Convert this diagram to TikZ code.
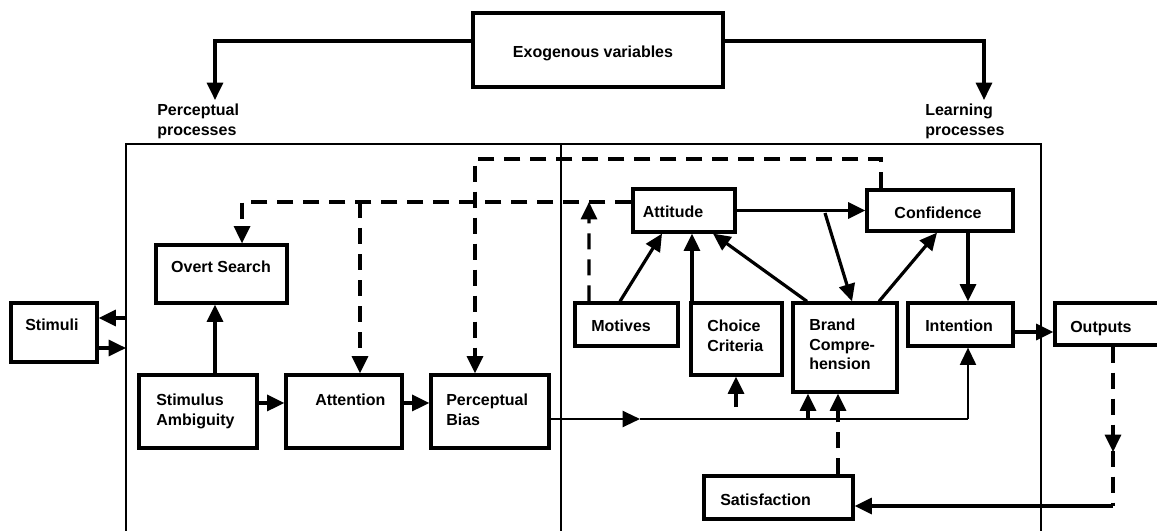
\documentclass[tikz,border=0pt]{standalone}
\usepackage{fontspec}
\setmainfont{Liberation Sans}
\usetikzlibrary{arrows.meta,fit}
\begin{document}
\begin{tikzpicture}[x=0.75pt,y=-0.75pt,
  box/.style={draw, line width=2.4pt, inner sep=0pt},
  lbl/.style={font=\fontsize{12}{14.5}\selectfont\bfseries, inner sep=0pt, align=left},
  frame/.style={line width=1.8pt},
  tip/.style={-{Triangle[length=13pt,width=12pt]}},
  link/.style={line width=2.4pt, tip},
  flow/.style={line width=1.6pt},
  flowlink/.style={line width=1.6pt, tip},
  fb/.style={line width=2.4pt, dash pattern=on 12pt off 7.5pt},
  fblink/.style={fb, tip},
]
\fill[white] (0,0) rectangle (1157,531);
\useasboundingbox (0,0) rectangle (1157,531);

% outer frame with the two process areas
\draw[frame] (126,531) -- (126,144) -- (1041,144) -- (1041,531);
\draw[frame] (561,144) -- (561,531);

% boxes
\node[box, fit={(473,13) (723,87)}]   (exo)  {};
\node[box, fit={(11,303) (97,362)}]   (stim) {};
\node[box, fit={(156,245) (287,303)}] (ovs)  {};
\node[box, fit={(139,375) (257,448)}] (sa)   {};
\node[box, fit={(286,375) (402,448)}] (attn) {};
\node[box, fit={(431,375) (549,448)}] (pb)   {};
\node[box, fit={(633,189) (735,232)}] (atti) {};
\node[box, fit={(867,190) (1013,231)}] (conf) {};
\node[box, fit={(575,303) (678,346)}] (mot)  {};
\node[box, fit={(691,303) (782,375)}] (cc)   {};
\node[box, fit={(793,303) (897,392)}] (bc)   {};
\node[box, fit={(908,303) (1013,346)}] (int) {};
\node[box, fit={(1055,303) (1175,345)}] (out) {};
\node[box, fit={(704,476) (853,519)}] (sat)  {};

% texts
\node[lbl, anchor=base] (exot) at (593,57.5) {Exogenous variables};
\node[lbl, anchor=north west] (pproc) at (157,104) {Perceptual\\processes};
\node[lbl, anchor=north west] (lproc) at (925,104) {Learning\\processes};
\node[lbl, anchor=base] (ovst) at (221,272.5) {Overt Search};
\node[lbl, anchor=base west] (stimt) at (25,330.5) {Stimuli};
\node[lbl, anchor=north west] (sat1) at (156,394) {Stimulus\\Ambiguity};
\node[lbl, anchor=base west] (attnt) at (315,405.5) {Attention};
\node[lbl, anchor=north west] (pbt) at (446,394) {Perceptual\\Bias};
\node[lbl, anchor=base] (attit) at (673,217.5) {Attitude};
\node[lbl, anchor=base] (conft) at (938,218.5) {Confidence};
\node[lbl, anchor=base west] (mott) at (591,331.5) {Motives};
\node[lbl, anchor=north west] (cct) at (707,320) {Choice\\Criteria};
\node[lbl, anchor=north west] (bct) at (809,319) {Brand\\Compre-\\hension};
\node[lbl, anchor=base west] (intt) at (925,331.5) {Intention};
\node[lbl, anchor=base west] (outt) at (1070,332.5) {Outputs};
\node[lbl, anchor=base west] (satt) at (720,505.5) {Satisfaction};

% exogenous influences
\coordinate (pin) at (215,100);
\coordinate (lin) at (984,100);
\draw[link] ([yshift=6.75pt]exo.west) -| (pin);
\draw[link] ([yshift=6.75pt]exo.east) -| (lin);

% stimuli exchange
\coordinate (fr1) at (126,318);
\coordinate (fr2) at (126,348);
\draw[link] (fr1) -- (fr1 -| stim.east);
\draw[link] (stim.east |- fr2) -- (fr2);

% perceptual chain
\draw[link] ([xshift=12.75pt]sa.north) -- ([xshift=12.75pt]sa.north |- ovs.south);
\draw[link] ([yshift=6.4pt]sa.east) -- ([yshift=6.4pt]sa.east -| attn.west);
\draw[link] ([yshift=6.4pt]attn.east) -- ([yshift=6.4pt]attn.east -| pb.west);

% main flow from perceptual bias
\coordinate (mainL) at (549,419);
\coordinate (mid) at (640,419);
\coordinate (mainR) at (968,419);
\coordinate (bcL) at (808,419);
\coordinate (bcR) at (838,419);
\draw[flowlink] (mainL) -- (mid);
\draw[flow] (mid) -- (mainR);
\draw[flowlink] (mainR) -- (mainR |- int.south);
\draw[link] (bcL) -- (bcL |- bc.south);
\draw[link] (bcR) -- (bcR |- bc.south);
\coordinate (ccin) at (736,407);
\draw[link] (ccin) -- (ccin |- cc.south);

% learning relations
\draw[link] (atti.east) -- (conf.west);
\coordinate (abs) at (825,213);
\draw[link] (abs) -- ([xshift=5.25pt]bc.north);
\draw[link] ([xshift=25.5pt]bc.north) -- ([xshift=-2.25pt]conf.south);
\draw[link] ([xshift=-28.5pt]bc.north) -- ([xshift=21.75pt]atti.south);
\draw[link] ([xshift=-4.9pt]mot.north) -- ([xshift=-16.5pt]atti.south);
\draw[link] ([xshift=-33.4pt]cc.north) -- ([xshift=-33.4pt]cc.north |- atti.south);
\draw[link] (conf.south -| mainR) -- (int.north -| mainR);
\coordinate (io) at (1013,332);
\draw[link] (io) -- (io -| out.west);

% feedback paths
\coordinate (dl) at (589,202);
\coordinate (dA) at (360,202);
\coordinate (dtop) at (475,159);
\draw[fblink] ([xshift=-28.1pt]mot.north) -- (dl);
\draw[fblink] ([yshift=6.4pt]atti.west) -| ([xshift=15.4pt]ovs.north);
\draw[fblink] (dA) -- (dA |- attn.north);
\draw[fblink] ([xshift=-44.25pt]conf.north) |- (dtop) -- (dtop |- pb.north);
\draw[fb] (bcR |- sat.north) -- (bcR);

\coordinate (odown) at (1113,506);
\coordinate (omid) at (1113,452);
\draw[fb] (odown |- out.south) -- (odown);
\draw[link] (1113,436) -- (omid);
\draw[link] (odown) -- (odown -| sat.east);
\end{tikzpicture}
\end{document}
